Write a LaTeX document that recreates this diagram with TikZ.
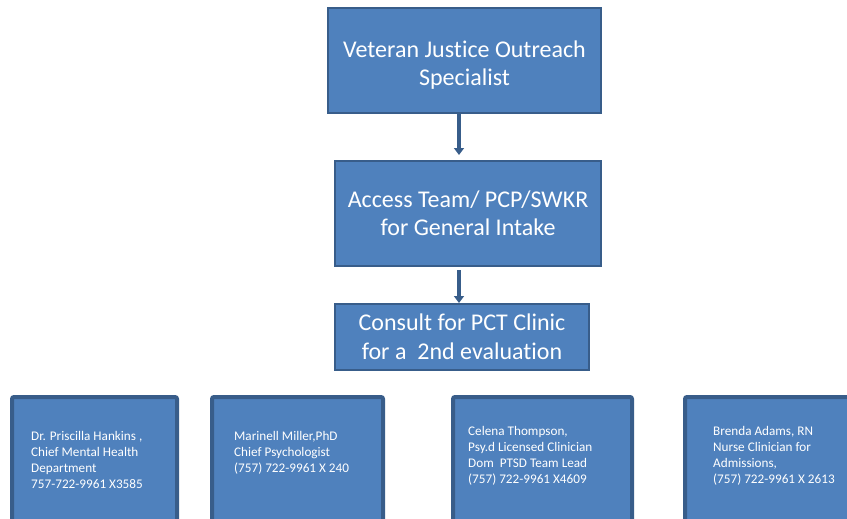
\documentclass[tikz,border=0pt]{standalone}
\usepackage{fontspec}
\setmainfont{Carlito}[Ligatures=CommonOff]
\usetikzlibrary{arrows.meta}
\definecolor{boxfill}{HTML}{4F81BD}
\definecolor{boxline}{HTML}{385D8A}
\begin{document}
\begin{tikzpicture}[x=1pt,y=-1pt,
    stepbox/.style={draw=boxline,line width=2pt,fill=boxfill,text=white,align=center,
      inner sep=0pt,font=\fontsize{24}{28.5}\selectfont},
    staffbox/.style={draw=boxline,line width=4pt,fill=boxfill,rounded corners=2pt,
      anchor=north west,inner sep=0pt},
    stafftext/.style={text=white,align=left,anchor=north west,inner sep=0pt,
      font=\fontsize{13.2}{16}\selectfont},
    arr/.style={draw=boxline,line width=4pt,-{Triangle[width=10pt,length=7pt]}}]
        \useasboundingbox (0,0) rectangle (847,519);
        \clip (0,0) rectangle (847,519);
        % referral chain
        \node[stepbox,minimum width=273pt,minimum height=105pt] (vjo) at (464.5,60.5)
            {\rule{0pt}{26pt}Veteran Justice Outreach\\Specialist};
        \node[stepbox,minimum width=266pt,minimum height=105pt] (intake) at (468,213.5)
            {Access Team/ PCP/SWKR\\for General Intake};
        \node[stepbox,minimum width=254pt,minimum height=66pt] (consult) at (462,337)
            {Consult for PCT Clinic\\for a\ \ 2nd evaluation};
        \coordinate (ax) at (459,0);
        \draw[arr,shorten >=5pt] (vjo.south -| ax) -- (intake.north -| ax);
        \draw[arr,shorten <=3pt] (intake.south -| ax) -- (consult.north -| ax);
        % staff boxes
        \node[staffbox,minimum width=165pt,minimum height=140pt] (hankins) at (10,395) {};
        \node[staffbox,minimum width=171pt,minimum height=140pt] (miller) at (210,395) {};
        \node[staffbox,minimum width=179pt,minimum height=140pt] (thompson) at (451,395) {};
        \node[staffbox,minimum width=180pt,minimum height=140pt] (adams) at (683,395) {};
        \node[stafftext] (hankinstext) at (31,431)
            {Dr. Priscilla Hankins ,\\Chief Mental Health\\Department\\757-722-9961 X3585};
        \node[stafftext] (millertext) at (234,431)
            {Marinell Miller,PhD\\Chief Psychologist\\(757) 722-9961 X 240};
        \node[stafftext] (thompsontext) at (468,426)
            {Celena Thompson,\\Psy.d Licensed Clinician\\Dom\ \ PTSD Team Lead\\(757) 722-9961 X4609};
        \node[stafftext] (adamstext) at (713,426)
            {Brenda Adams, RN\\Nurse Clinician for\\Admissions,\\(757) 722-9961 X 2613};
    \end{tikzpicture}
\end{document}
